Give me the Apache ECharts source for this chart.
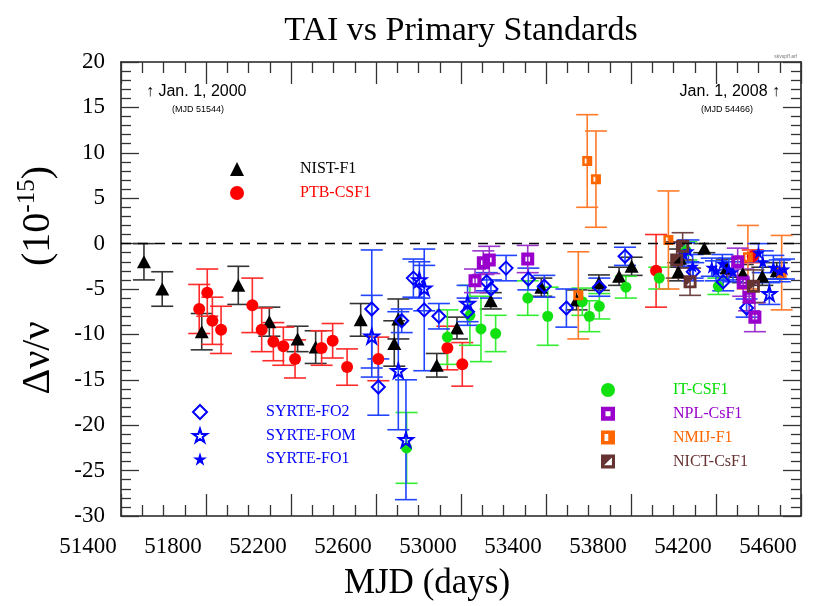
<!DOCTYPE html>
<html><head><meta charset="utf-8">
<script src="https://cdn.jsdelivr.net/npm/echarts@6/dist/echarts.min.js"></script>
<style>html,body{margin:0;padding:0;background:#fff}#c{width:831px;height:606px}</style>
</head><body><div id="c"></div>
<script>
// ---------- data (MJD, value, uncertainty) ----------
const nistMJD = [51508,51594,51780,51952,52098,52231,52316,52528,52686,52705,52886,52981,53140,53378,53544,53649,53744,53803,54023,54030,54145,54250,54326,54418,54486];
const nistVal = [-2.0,-5.0,-9.7,-4.6,-8.6,-10.5,-11.4,-8.4,-11.0,-8.3,-13.4,-9.3,-6.3,-4.8,-6.2,-4.3,-3.6,-2.5,-3.1,-1.6,-0.5,-2.7,-3.3,-3.6,-3.0];
const nistErr = [2.0,1.9,2.0,2.1,1.6,1.4,1.8,1.8,2.5,2.2,1.3,1.2,0.9,1.0,1.1,0.85,1.0,1.0,1.0,1.0,0.5,1.0,1.0,1.0,0.9];

const ptbMJD = [51768,51806,51830,51871,52018,52062,52117,52164,52219,52344,52396,52464,52611,52936,53006,53918,54373];
const ptbVal = [-7.2,-5.4,-8.5,-9.5,-6.8,-9.5,-10.8,-11.3,-12.7,-11.5,-10.7,-13.6,-12.7,-11.5,-13.3,-3.0,-1.4];
const ptbErr = [2.7,2.6,2.6,2.6,3.0,2.4,2.1,2.1,2.1,1.9,1.9,2.0,2.4,2.4,2.4,4.0,0.7];

const fo2MJD = [52580,52611,52721,52776,52827,52896,53031,53121,53141,53212,53317,53392,53496,53651,53772,54093,54234,54344];
const fo2Val = [-7.2,-15.8,-8.5,-3.8,-7.3,-8.0,-7.5,-4.2,-5.0,-2.7,-3.9,-4.7,-7.1,-4.8,-1.4,-3.1,-4.2,-7.1];
const fo2Err = [6.5,3.1,1.3,2.1,6.7,1.4,1.5,1.0,1.0,1.4,1.2,1.2,2.1,1.0,1.0,1.0,1.0,1.0];

const fomMJD = [52580,52705,52741,52804,52827,53031,54451];
const fomVal = [-10.2,-14.0,-21.6,-4.0,-4.9,-6.6,-5.5];
const fomErr = [4.5,6.5,6.6,2.0,2.5,2.0,1.2];

const fo1MJD = [54050,54070,54090,54180,54200,54230,54260,54280,54400,54420,54470,54500,54520];
const fo1Val = [-1.2,-0.8,-2.5,-2.6,-3.0,-2.2,-2.8,-3.1,-1.0,-2.0,-2.6,-3.0,-2.8];
const fo1Err = [1.3,1.2,1.3,1.0,1.1,1.0,1.2,1.1,1.0,1.2,1.3,1.2,1.1];

const itMJD = [52744,52936,53042,53094,53163,53314,53408,53571,53604,53651,53776,53933,54060,54211];
const itVal = [-22.5,-10.3,-7.9,-9.4,-9.9,-6.0,-8.0,-6.4,-8.0,-6.9,-4.8,-3.8,-0.8,-4.7];
const itErr = [3.9,3.0,3.3,3.6,2.0,1.9,3.2,1.5,1.7,1.4,1.2,1.2,1.0,0.9];

const nplMJD = [53066,53105,53133,53314,54302,54328,54356,54383];
const nplVal = [-4.1,-2.1,-1.8,-1.7,-2.0,-4.3,-5.9,-8.1];
const nplErr = [1.3,1.3,1.5,1.5,1.5,1.5,1.5,1.6];

const nmijMJD = [53552,53594,53635,53976,54350,54509];
const nmijVal = [-5.7,9.1,7.1,0.4,-1.5,-3.2];
const nmijErr = [4.8,5.1,5.3,5.4,3.5,4.1];

const nictMJD = [54015,54043,54078,54376];
const nictVal = [-1.8,-0.3,-4.2,-4.7];
const nictErr = [2.0,1.5,1.5,1.8];

const xTicks = {min:51400, max:54600, step:400};
const yTicks = {min:-30, max:20, step:5};

// ---------- rendering ----------
const SERIF = "'Liberation Serif','DejaVu Serif',serif";
const SANS = "'Liberation Sans','DejaVu Sans',sans-serif";
const STAR = 'path://M50,0 L61.2,34.5 L97.6,34.5 L68.2,55.9 L79.4,90.5 L50,69.1 L20.6,90.5 L31.8,55.9 L2.4,34.5 L38.8,34.5 Z';
const SQ_HOLE = 'path://M0,0 H10 V10 H0 Z M3.2,3.2 V6.8 H6.8 V3.2 Z';
const SQ_BAR = 'path://M0,0 H10 V10 H0 Z M2.5,2.5 V7.5 H5.2 V2.5 Z';
const SQ_TRI = 'path://M0,0 H10 V10 H0 Z M2.2,7.8 H7.8 V2.2 Z';

function pts(m, v, e){ return m.map((x,i)=>[x, v[i], e[i]]); }

function errSeries(name, data, color){
  return {
    type:'custom', name: name+'_err', clip:true, z:2,
    encode:{x:0, y:1},
    data,
    renderItem(params, api){
      const x = api.value(0), y = api.value(1), e = api.value(2);
      const p1 = api.coord([x, y+e]), p2 = api.coord([x, y-e]);
      const h = 11;
      const st = {stroke:color, lineWidth:1.6};
      return {type:'group', children:[
        {type:'line', shape:{x1:p1[0],y1:p1[1],x2:p2[0],y2:p2[1]}, style:st},
        {type:'line', shape:{x1:p1[0]-h,y1:p1[1],x2:p1[0]+h,y2:p1[1]}, style:st},
        {type:'line', shape:{x1:p2[0]-h,y1:p2[1],x2:p2[0]+h,y2:p2[1]}, style:st}
      ]};
    }
  };
}
function markSeries(name, data, symbol, size, itemStyle){
  return {type:'scatter', name, data, symbol, symbolSize:size,
    itemStyle:Object.assign({opacity:1}, itemStyle), z:4, clip:true};
}

const defs = [
  {name:'NIST-F1', m:nistMJD, v:nistVal, e:nistErr, ec:'#333333', sym:'triangle', size:[14,13], st:{color:'#000'}},
  {name:'PTB-CSF1', m:ptbMJD, v:ptbVal, e:ptbErr, ec:'#ff2a2a', sym:'circle', size:12, st:{color:'#ff0000'}},
  {name:'IT-CSF1', m:itMJD, v:itVal, e:itErr, ec:'#33ee33', sym:'circle', size:11, st:{color:'#11e011'}},
  {name:'NMIJ-F1', m:nmijMJD, v:nmijVal, e:nmijErr, ec:'#ff7a2a', sym:SQ_BAR, size:10, st:{color:'#ff6600'}},
  {name:'SYRTE-FO2', m:fo2MJD, v:fo2Val, e:fo2Err, ec:'#2244ff', sym:'diamond', size:13, st:{color:'rgba(255,255,255,0)', borderColor:'#0000ff', borderWidth:2}},
  {name:'SYRTE-FOM', m:fomMJD, v:fomVal, e:fomErr, ec:'#2244ff', sym:STAR, size:14, st:{color:'rgba(255,255,255,0)', borderColor:'#0000ff', borderWidth:2}},
  {name:'SYRTE-FO1', m:fo1MJD, v:fo1Val, e:fo1Err, ec:'#2244ff', sym:STAR, size:13, st:{color:'#0000ff'}},
  {name:'NPL-CsF1', m:nplMJD, v:nplVal, e:nplErr, ec:'#9933cc', sym:SQ_HOLE, size:13, st:{color:'#9900cc'}},
  {name:'NICT-CsF1', m:nictMJD, v:nictVal, e:nictErr, ec:'#6e4444', sym:SQ_TRI, size:13, st:{color:'#663333'}}
];

const series = [];
defs.forEach(d=>{ series.push(errSeries(d.name, pts(d.m, d.v, d.e), d.ec)); });
defs.forEach(d=>{ series.push(markSeries(d.name, pts(d.m, d.v, d.e), d.sym, d.size, d.st)); });
series[0].markLine = {silent:true, symbol:'none', label:{show:false}, animation:false,
  lineStyle:{type:[10,7], color:'#000', width:1.3}, data:[{yAxis:0}]};

const axLine = {show:true, onZero:false, lineStyle:{color:'#222', width:1.6}};
function xAx(pos, labels){
  return {type:'value', position:pos, min:xTicks.min, max:xTicks.max, interval:xTicks.step,
    axisLine:axLine, splitLine:{show:false},
    axisTick:{show:true, inside:true, length:22, lineStyle:{color:'#333', width:1.3}},
    minorTick:{show:true, splitNumber:4, length:11, lineStyle:{color:'#333', width:1.3}},
    axisLabel:{show:labels, fontFamily:SERIF, fontSize:23, color:'#000', margin:19, padding:[0,66,0,0],
      showMinLabel:true, showMaxLabel:true, formatter:v=>String(v)}
  };
}
function yAx(pos, labels){
  return {type:'value', position:pos, min:yTicks.min, max:yTicks.max, interval:yTicks.step,
    axisLine:axLine, splitLine:{show:false},
    axisTick:{show:true, inside:true, length:18, lineStyle:{color:'#333', width:1.3}},
    minorTick:{show:true, splitNumber:5, length:10, lineStyle:{color:'#333', width:1.3}},
    axisLabel:{show:labels, fontFamily:SERIF, fontSize:23, color:'#000', margin:16,
      showMinLabel:true, showMaxLabel:true, formatter:v=>String(v)}
  };
}

function legendBlock(names, colors, left, top, gap, textPad){
  return {orient:'vertical', left, top, padding:0, itemWidth:14, itemHeight:14, itemGap:gap, selectedMode:false,
    data:names.map((n,i)=>({name:n, textStyle:{color:colors[i]}})),
    textStyle:{fontFamily:SERIF, fontSize:16, lineHeight:16, padding:[0,0,0,textPad]}};
}

const option = {
  animation:false,
  backgroundColor:'#fff',
  grid:{left:121, right:30, top:62, bottom:90},
  xAxis:[xAx('bottom', true), xAx('top', false)],
  yAxis:[yAx('left', true), yAx('right', false)],
  legend:[
    legendBlock(['NIST-F1','PTB-CSF1'], ['#000','#ff0000'], 230, 161, 8, 51),
    legendBlock(['SYRTE-FO2','SYRTE-FOM','SYRTE-FO1'], ['#0000ff','#0000ff','#0000ff'], 192, 404, 7.5, 54),
    legendBlock(['IT-CSF1','NPL-CsF1','NMIJ-F1','NICT-CsF1'], ['#00dd00','#9900cc','#ff6600','#663333'], 601, 382, 7.8, 53)
  ],
  series,
  graphic:[
    {type:'text', x:461, y:31, style:{text:'TAI vs Primary Standards', font:"34px "+SERIF, fill:'#000', align:'center', verticalAlign:'middle'}},
    {type:'text', x:427, y:584, style:{text:'MJD (days)', font:"35px "+SERIF, fill:'#000', align:'center', verticalAlign:'middle'}},
    {type:'text', x:38, y:358, rotation:Math.PI/2, style:{text:'\u0394\u03bd/\u03bd', font:"40px "+SERIF, fill:'#000', align:'center', verticalAlign:'middle'}},
    {type:'text', x:38, y:216, rotation:Math.PI/2, style:{
      rich:{n:{font:"40px "+SERIF, fill:'#000', lineHeight:46}, s:{font:"25px "+SERIF, fill:'#000', verticalAlign:'top', lineHeight:46}},
      text:'{n|(10}{s|-15}{n|)}', align:'center', verticalAlign:'middle'}},
    {type:'text', x:146, y:92, style:{text:'\u2191 Jan. 1, 2000', font:"16px "+SANS, fill:'#000', align:'left', verticalAlign:'middle'}},
    {type:'text', x:172, y:110, style:{text:'(MJD 51544)', font:"9px "+SANS, fill:'#000', align:'left', verticalAlign:'middle'}},
    {type:'text', x:780, y:92, style:{text:'Jan. 1, 2008 \u2191', font:"16px "+SANS, fill:'#000', align:'right', verticalAlign:'middle'}},
    {type:'text', x:753, y:110, style:{text:'(MJD 54466)', font:"9px "+SANS, fill:'#000', align:'right', verticalAlign:'middle'}},
    {type:'text', x:797, y:57, style:{text:'skvspff.arf', font:"5px "+SANS, fill:'#777', align:'right', verticalAlign:'middle'}}
  ]
};
echarts.init(document.getElementById('c')).setOption(option);
</script></body></html>
